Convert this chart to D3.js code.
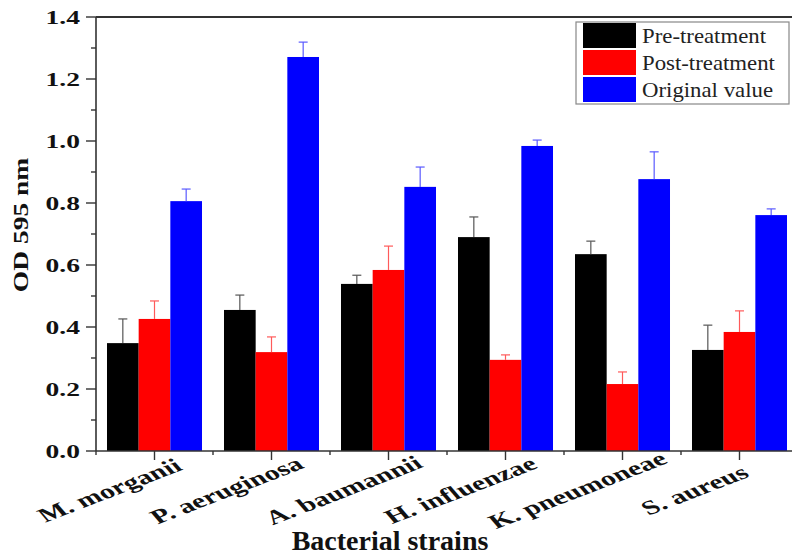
<!DOCTYPE html>
<html>
<head>
<meta charset="utf-8">
<script src="https://cdn.jsdelivr.net/npm/d3@7"></script>
<style>
	html, body { margin: 0; padding: 0; background: #fff; }
	svg { display: block; font-family: "Liberation Serif", "Times New Roman", serif; }
</style>
</head>
<body>
<div id="chart"></div>
<script>
/* bacterial strains along the x axis */
const strains = ["M. morganii", "P. aeruginosa", "A. baumannii", "H. influenzae", "K. pneumoneae", "S. aureus"];

/* series names, in legend order */
const series = ["Pre-treatment", "Post-treatment", "Original value"];

/* OD 595 nm means */
const preTreatment  = [0.348, 0.455, 0.539, 0.690, 0.635, 0.326];
const postTreatment = [0.426, 0.319, 0.584, 0.294, 0.216, 0.384];
const originalValue = [0.806, 1.271, 0.852, 0.984, 0.877, 0.761];

/* upper error bar lengths */
const preErr  = [0.078, 0.048, 0.028, 0.065, 0.042, 0.080];
const postErr = [0.058, 0.049, 0.077, 0.016, 0.039, 0.068];
const origErr = [0.039, 0.048, 0.064, 0.019, 0.088, 0.020];

const yTicks = [0, 0.2, 0.4, 0.6, 0.8, 1.0, 1.2, 1.4];
const yMinorTicks = [0.1, 0.3, 0.5, 0.7, 0.9, 1.1, 1.3];

const values = [preTreatment, postTreatment, originalValue];
const errors = [preErr, postErr, origErr];
const barColors = ["#000000", "#ff0000", "#0000ff"];
const errColors = ["#555555", "#ff5a5a", "#5a5aff"];

const width = 792, height = 556;
const plot = { left: 96, top: 17, bottom: 451, right: 798 };

const svg = d3.select("#chart").append("svg")
	.attr("width", width)
	.attr("height", height);

/* scales */
const x0 = d3.scaleBand()
	.domain(strains)
	.range([plot.left, plot.right])
	.paddingInner(0.188)
	.paddingOuter(0.094);

const x1 = d3.scaleBand()
	.domain(series)
	.range([0, x0.bandwidth()]);

const y = d3.scaleLinear()
	.domain([0, 1.4])
	.range([plot.bottom, plot.top]);

const step = (plot.right - plot.left) / strains.length;

/* flatten into rows for the bars */
const rows = [];
strains.forEach((s, i) => {
	series.forEach((name, j) => {
		rows.push({ strain: s, series: name, k: j, value: values[j][i], err: errors[j][i] });
	});
});

/* bars */
const bars = svg.append("g").attr("class", "bars");
bars.selectAll("rect")
	.data(rows)
	.join("rect")
	.attr("x", d => x0(d.strain) + x1(d.series))
	.attr("y", d => y(d.value))
	.attr("width", x1.bandwidth())
	.attr("height", d => y(0) - y(d.value))
	.attr("fill", d => barColors[d.k]);

/* upper error bars */
const errG = svg.append("g").attr("class", "errors");
const cx = d => x0(d.strain) + x1(d.series) + x1.bandwidth() / 2;
errG.selectAll("line.stem")
	.data(rows)
	.join("line")
	.attr("class", "stem")
	.attr("x1", cx).attr("x2", cx)
	.attr("y1", d => y(d.value))
	.attr("y2", d => y(d.value + d.err))
	.attr("stroke", d => errColors[d.k])
	.attr("stroke-width", 1.2);
errG.selectAll("line.cap")
	.data(rows)
	.join("line")
	.attr("class", "cap")
	.attr("x1", d => cx(d) - 4.5).attr("x2", d => cx(d) + 4.5)
	.attr("y1", d => y(d.value + d.err))
	.attr("y2", d => y(d.value + d.err))
	.attr("stroke", d => errColors[d.k])
	.attr("stroke-width", 1.2);

/* frame: top line */
svg.append("line")
	.attr("x1", plot.left).attr("x2", width)
	.attr("y1", plot.top).attr("y2", plot.top)
	.attr("stroke", "#333").attr("stroke-width", 2);

/* y axis */
const yAxis = svg.append("g").attr("class", "y-axis");
yAxis.append("line")
	.attr("x1", plot.left).attr("x2", plot.left)
	.attr("y1", plot.top).attr("y2", plot.bottom)
	.attr("stroke", "#333").attr("stroke-width", 1.6);
yAxis.selectAll("line.major")
	.data(yTicks)
	.join("line")
	.attr("class", "major")
	.attr("x1", plot.left - 10).attr("x2", plot.left)
	.attr("y1", d => y(d)).attr("y2", d => y(d))
	.attr("stroke", "#333").attr("stroke-width", 1.4);
yAxis.selectAll("line.minor")
	.data(yMinorTicks)
	.join("line")
	.attr("class", "minor")
	.attr("x1", plot.left - 5).attr("x2", plot.left)
	.attr("y1", d => y(d)).attr("y2", d => y(d))
	.attr("stroke", "#333").attr("stroke-width", 1.4);
yAxis.selectAll("text")
	.data(yTicks)
	.join("text")
	.attr("transform", d => `translate(${plot.left - 16},${y(d) + 6.5}) scale(1.45,1)`)
	.attr("text-anchor", "end")
	.attr("font-size", 19)
	.attr("font-weight", "bold")
	.attr("fill", "#111")
	.text(d3.format(".1f"));

/* x axis */
const xAxis = svg.append("g").attr("class", "x-axis");
xAxis.append("line")
	.attr("x1", plot.left).attr("x2", width)
	.attr("y1", plot.bottom).attr("y2", plot.bottom)
	.attr("stroke", "#333").attr("stroke-width", 1.6);
xAxis.selectAll("line.major")
	.data(strains)
	.join("line")
	.attr("class", "major")
	.attr("x1", d => x0(d) + x0.bandwidth() / 2).attr("x2", d => x0(d) + x0.bandwidth() / 2)
	.attr("y1", plot.bottom).attr("y2", plot.bottom + 9)
	.attr("stroke", "#333").attr("stroke-width", 1.4);
xAxis.selectAll("line.minor")
	.data(d3.range(strains.length + 1))
	.join("line")
	.attr("class", "minor")
	.attr("x1", i => plot.left + i * step).attr("x2", i => plot.left + i * step)
	.attr("y1", plot.bottom).attr("y2", plot.bottom + 4)
	.attr("stroke", "#333").attr("stroke-width", 1.4);
xAxis.selectAll("text")
	.data(strains)
	.join("text")
	.attr("transform", d => `translate(${x0(d) + x0.bandwidth() / 2 - 40},${plot.bottom + 45}) scale(1.5,1) rotate(-30)`)
	.attr("text-anchor", "middle")
	.attr("font-size", 20)
	.attr("font-weight", "bold")
	.attr("fill", "#111")
	.text(d => d);

/* axis titles */
svg.append("text")
	.attr("x", 390).attr("y", 550)
	.attr("text-anchor", "middle")
	.attr("font-size", 28)
	.attr("font-weight", "bold")
	.attr("fill", "#111")
	.text("Bacterial strains");

svg.append("text")
	.attr("transform", "translate(28,225) rotate(-90) scale(1.25,1)")
	.attr("text-anchor", "middle")
	.attr("font-size", 22)
	.attr("font-weight", "bold")
	.attr("fill", "#111")
	.text("OD 595 nm");

/* legend */
const legend = svg.append("g").attr("class", "legend").attr("transform", "translate(576,22)");
legend.append("rect")
	.attr("width", 213).attr("height", 82)
	.attr("fill", "#fff")
	.attr("stroke", "#888").attr("stroke-width", 1.2);
const items = legend.selectAll("g.item")
	.data(series)
	.join("g")
	.attr("class", "item")
	.attr("transform", (d, i) => `translate(7,${1 + i * 27})`);
items.append("rect")
	.attr("width", 53).attr("height", 25)
	.attr("fill", (d, i) => barColors[i]);
items.append("text")
	.attr("transform", "translate(59,20) scale(1.14,1)")
	.attr("font-size", 20)
	.attr("fill", "#222")
	.text(d => d);
</script>
</body>
</html>
